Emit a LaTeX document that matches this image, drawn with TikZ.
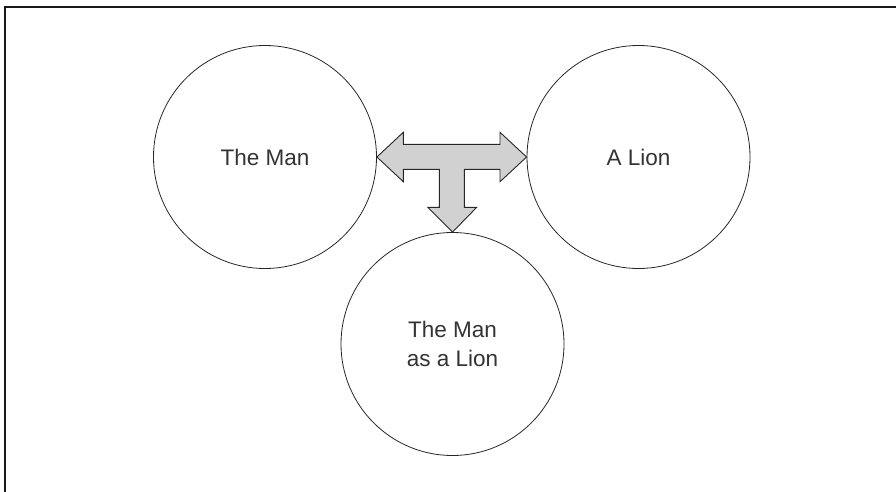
\documentclass[tikz,border=0pt]{standalone}
\usepackage{fontspec}
\setmainfont{Liberation Sans}
\begin{document}
\begin{tikzpicture}[x=1pt,y=-1pt,
  idea/.style={circle,draw=black!85,line width=0.8pt,minimum size=223pt,inner sep=0pt,
    text=black!80,align=center,font=\fontsize{22.5}{29.5}\selectfont},
  tarrow/.style={draw=black!85,line width=0.9pt,fill=black!18,line join=miter},
  frame/.style={draw=black!90,line width=2pt}]
\useasboundingbox (0,0) rectangle (896,492);
\draw[frame] (4.5,492) -- (4.5,7.5) -- (896,7.5);
\node[idea] (man) at (265,157) {The Man};
\node[idea] (lion) at (638.5,157) {A Lion};
\node[idea] (both) at (452.5,344) {The Man\\as a Lion};
\draw[tarrow] (man.east) -- (403.3,132.3) -- (403.3,144.3) -- (500,144.3) -- (500,132.3)
  -- (lion.west) -- (500,181.7) -- (500,169.3) -- (464.3,169.3) -- (464.3,207.3)
  -- (476.7,207.3) -- (both.north) -- (427.7,207.3) -- (439.3,207.3) -- (439.3,169.3)
  -- (403.3,169.3) -- (403.3,181.7) -- cycle;
\end{tikzpicture}
\end{document}
